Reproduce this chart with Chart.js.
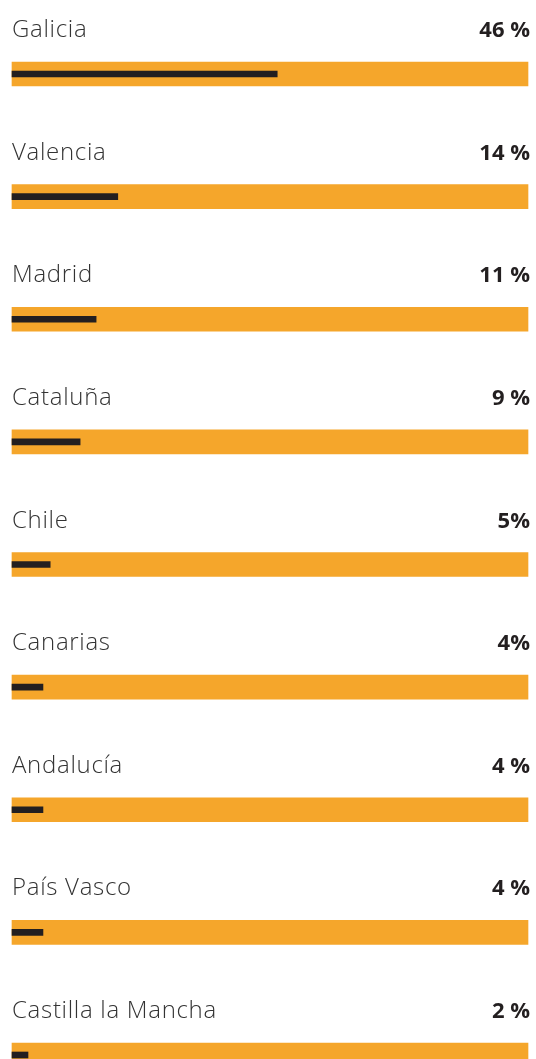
<!DOCTYPE html>
<html><head><meta charset="utf-8">
<script src="https://cdn.jsdelivr.net/npm/chart.js@4.4.1/dist/chart.umd.min.js"></script>
<style>html,body{margin:0;padding:0;background:#fff;overflow:hidden}#wrap{width:536px;height:1059px;position:relative}</style>
</head><body><div id="wrap"><canvas id="c"></canvas></div>
<script>
const regions = ["Galicia","Valencia","Madrid","Cataluña","Chile","Canarias","Andalucía","País Vasco","Castilla la Mancha"];
const valueLabels = ["46 %","14 %","11 %","9 %","5%","4%","4 %","4 %","2 %"];
const barLengths = [51.4, 20.5, 16.3, 13.2, 7.4, 6.0, 6.0, 6.0, 3.1];
const trackValues = [100,100,100,100,100,100,100,100,100];

const textPlugin = {
  id:'rowText',
  afterDatasetsDraw(chart){
    const {ctx, scales:{x,y}} = chart;
    ctx.save();
    regions.forEach((r,i)=>{
      const cy = y.getPixelForValue(i);
      const base = cy - 37;
      ctx.textBaseline='alphabetic';
      ctx.letterSpacing = '0.7px';
      ctx.font = '300 24px "Open Sans"';
      ctx.fillStyle = '#333333';
      ctx.textAlign='left';
      ctx.fillText(r, x.left, base);
      ctx.letterSpacing = '0px';
      ctx.font = 'bold 22px "Open Sans"';
      ctx.fillStyle = '#231F20';
      ctx.textAlign='right';
      ctx.fillText(valueLabels[i], x.right+2, base);
    });
    ctx.restore();
  }
};

new Chart(document.getElementById('c'),{
  type:'bar',
  data:{labels:regions,datasets:[
    {data:barLengths,backgroundColor:'#231F20',barThickness:6,grouped:false,order:1,clip:false},
    {data:trackValues,backgroundColor:'#F5A62B',barThickness:24,grouped:false,order:2,clip:false}
  ]},
  options:{
    indexAxis:'y',responsive:true,maintainAspectRatio:false,animation:false,
    layout:{padding:{left:12,right:8,top:74,bottom:4}},
    plugins:{legend:{display:false},tooltip:{enabled:false}},
    scales:{
      x:{display:false,min:0,max:100},
      y:{display:false,offset:false}
    }
  },
  plugins:[textPlugin]
});
</script></body></html>
